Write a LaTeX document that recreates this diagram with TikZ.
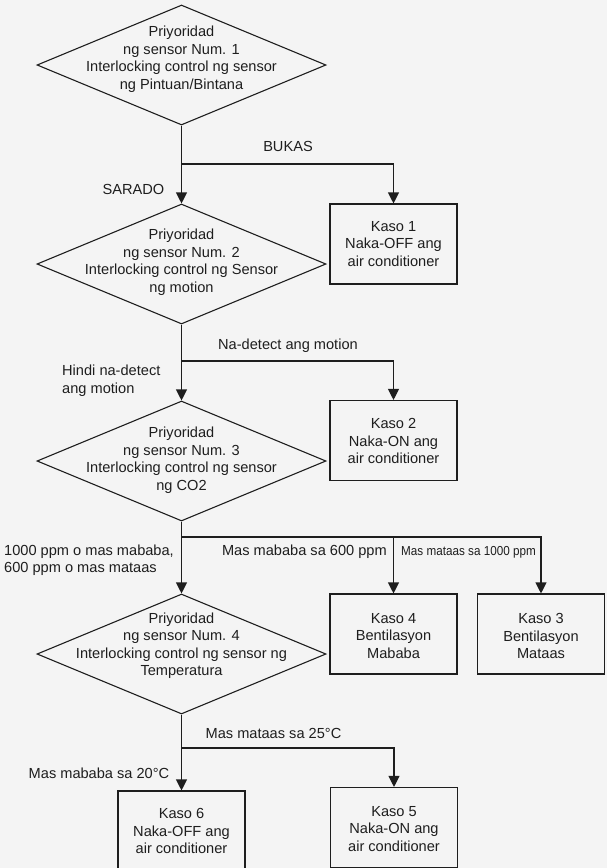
\documentclass[tikz,border=0pt]{standalone}
\usepackage{fontspec}
\setmainfont{Liberation Sans}
\usetikzlibrary{shapes.geometric,arrows.meta}
\definecolor{bgc}{RGB}{244,244,244}
\definecolor{ink}{RGB}{30,30,30}
\begin{document}
\begin{tikzpicture}[x=1pt,y=-1pt,
  font=\fontsize{14.6}{17.5}\selectfont,
  decision/.style={draw=ink, line width=1.1pt, shape=diamond, minimum width=289pt, minimum height=120pt, inner sep=0pt},
  casebox/.style={draw=ink, line width=1.1pt, minimum width=127pt, minimum height=80pt, inner sep=0pt},
  txt/.style={text=ink, align=center, inner sep=0pt},
  lbl/.style={text=ink, inner sep=0pt},
  flow/.style={draw=ink, line width=1.1pt},
  arr/.style={flow, -{Triangle[width=11pt,length=11pt]}},
]
\fill[bgc] (0,0) rectangle (607,868);
\useasboundingbox (0,0) rectangle (607,868);

% decisions
\node[decision] (d1) at (181.5,65) {};
\node[txt] (t1) at (181.5,59) {Priyoridad\\ng sensor Num. 1\\Interlocking control ng sensor\\ng Pintuan/Bintana};
\node[decision] (d2) at (181.5,264) {};
\node[txt] (t2) at (181.5,262) {Priyoridad\\ng sensor Num. 2\\Interlocking control ng Sensor\\ng motion};
\node[decision] (d3) at (181.5,461) {};
\node[txt] (t3) at (181.5,460) {Priyoridad\\ng sensor Num. 3\\Interlocking control ng sensor\\ng CO2};
\node[decision] (d4) at (181.5,654) {};
\node[txt] (t4) at (181.5,645.5) {Priyoridad\\ng sensor Num. 4\\Interlocking control ng sensor ng\\Temperatura};

% cases
\node[casebox] (k1) at (393.5,244) {};
\node[txt] (c1) at (393.5,244) {Kaso 1\\Naka-OFF ang\\air conditioner};
\node[casebox] (k2) at (393.5,440.5) {};
\node[txt] (c2) at (393.5,441) {Kaso 2\\Naka-ON ang\\air conditioner};
\node[casebox] (k4) at (393.5,634) {};
\node[txt] (c4) at (393.5,636) {Kaso 4\\Bentilasyon\\Mababa};
\node[casebox] (k3) at (541,634) {};
\node[txt] (c3) at (541,636) {Kaso 3\\Bentilasyon\\Mataas};
\node[casebox] (k5) at (394,827.5) {};
\node[txt] (c5) at (394,829) {Kaso 5\\Naka-ON ang\\air conditioner};
\node[casebox] (k6) at (181.5,831) {};
\node[txt] (c6) at (181.5,831) {Kaso 6\\Naka-OFF ang\\air conditioner};

% junctions
\coordinate (j1) at (181.5,164);
\coordinate (j2) at (181.5,361);
\coordinate (j3) at (181.5,537);
\coordinate (j4) at (181.5,748);

% connectors
\draw[arr] (d1.south) -- (d2.north);
\draw[arr] (j1) -| (k1.north);
\draw[arr] (d2.south) -- (d3.north);
\draw[arr] (j2) -| (k2.north);
\draw[arr] (d3.south) -- (d4.north);
\draw[arr] (j3) -| (k4.north);
\draw[arr] (j3) -| (k3.north);
\draw[arr] (d4.south) -- (k6.north);
\draw[arr] (j4) -| (k5.north);

% labels
\node[lbl] (l1) at (288,146) {BUKAS};
\node[lbl] (l2) at (133.5,189) {SARADO};
\node[lbl] (l3) at (288,346) {Na-detect ang motion};
\node[lbl, anchor=west, align=left] (l4) at (62,380.5) {Hindi na-detect\\ang motion};
\node[lbl, anchor=west, align=left] (l5) at (4,560) {1000 ppm o mas mababa,\\600 ppm o mas mataas};
\node[lbl, anchor=east] (l6) at (387,552) {Mas mababa sa 600 ppm};
\node[lbl, anchor=west] (l7) at (401,552) {\fontsize{13}{15}\selectfont\scalebox{0.9}[1]{Mas mataas sa 1000 ppm}};
\node[lbl] (l8) at (273.5,733) {Mas mataas sa 25°C};
\node[lbl] (l9) at (99,773) {Mas mababa sa 20°C};
\end{tikzpicture}
\end{document}
